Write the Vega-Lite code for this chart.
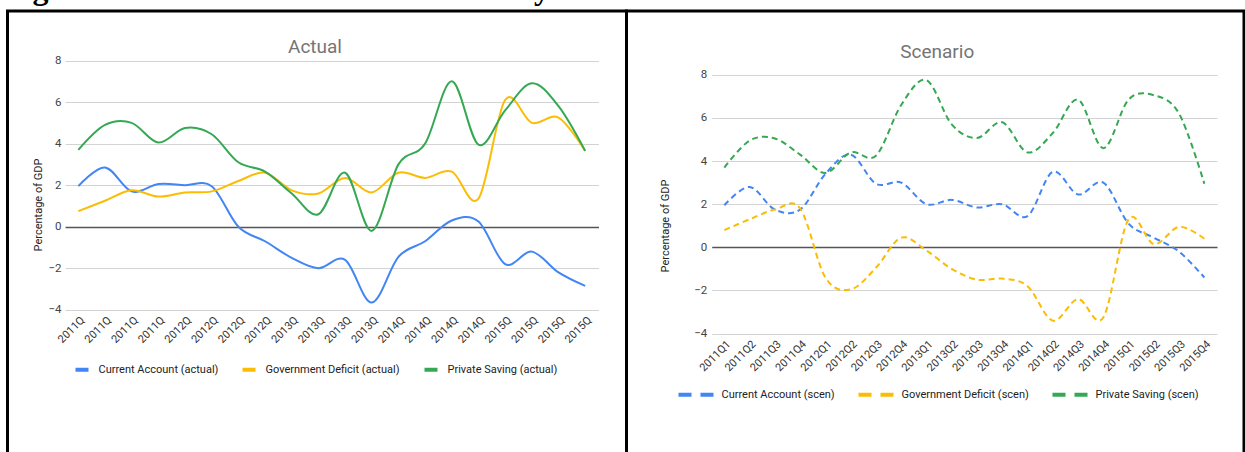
{
  "$schema": "https://vega.github.io/schema/vega-lite/v6.json",
  "autosize": {"type": "pad"},
  "padding": {"left": 3.5, "top": -28, "right": 0, "bottom": 0},
  "background": "white",
  "title": {"text": "Figure 11: Financial Balances: New Keynesian Shock", "anchor": "start", "font": "Liberation Serif", "fontSize": 32, "fontWeight": "bold", "color": "#000", "baseline": "alphabetic", "offset": -21, "dx": -2},
  "spacing": 0,
  "bounds": "flush",
  "resolve": {"scale": {"x": "independent", "y": "independent", "color": "independent"}, "legend": {"color": "independent"}},
  "datasets": {
    "actual": [
      {"q": "2011Q1", "series": "Current Account (actual)", "v": 1.95},
      {"q": "2011Q2", "series": "Current Account (actual)", "v": 2.85},
      {"q": "2011Q3", "series": "Current Account (actual)", "v": 1.7},
      {"q": "2011Q4", "series": "Current Account (actual)", "v": 2.05},
      {"q": "2012Q1", "series": "Current Account (actual)", "v": 2.0},
      {"q": "2012Q2", "series": "Current Account (actual)", "v": 1.95},
      {"q": "2012Q3", "series": "Current Account (actual)", "v": 0.0},
      {"q": "2012Q4", "series": "Current Account (actual)", "v": -0.7},
      {"q": "2013Q1", "series": "Current Account (actual)", "v": -1.5},
      {"q": "2013Q2", "series": "Current Account (actual)", "v": -2.0},
      {"q": "2013Q3", "series": "Current Account (actual)", "v": -1.6},
      {"q": "2013Q4", "series": "Current Account (actual)", "v": -3.65},
      {"q": "2014Q1", "series": "Current Account (actual)", "v": -1.45},
      {"q": "2014Q2", "series": "Current Account (actual)", "v": -0.7},
      {"q": "2014Q3", "series": "Current Account (actual)", "v": 0.3},
      {"q": "2014Q4", "series": "Current Account (actual)", "v": 0.25},
      {"q": "2015Q1", "series": "Current Account (actual)", "v": -1.8},
      {"q": "2015Q2", "series": "Current Account (actual)", "v": -1.2},
      {"q": "2015Q3", "series": "Current Account (actual)", "v": -2.2},
      {"q": "2015Q4", "series": "Current Account (actual)", "v": -2.85},
      {"q": "2011Q1", "series": "Government Deficit (actual)", "v": 0.75},
      {"q": "2011Q2", "series": "Government Deficit (actual)", "v": 1.25},
      {"q": "2011Q3", "series": "Government Deficit (actual)", "v": 1.75},
      {"q": "2011Q4", "series": "Government Deficit (actual)", "v": 1.45},
      {"q": "2012Q1", "series": "Government Deficit (actual)", "v": 1.65},
      {"q": "2012Q2", "series": "Government Deficit (actual)", "v": 1.7},
      {"q": "2012Q3", "series": "Government Deficit (actual)", "v": 2.2},
      {"q": "2012Q4", "series": "Government Deficit (actual)", "v": 2.6},
      {"q": "2013Q1", "series": "Government Deficit (actual)", "v": 1.75},
      {"q": "2013Q2", "series": "Government Deficit (actual)", "v": 1.6},
      {"q": "2013Q3", "series": "Government Deficit (actual)", "v": 2.35},
      {"q": "2013Q4", "series": "Government Deficit (actual)", "v": 1.65},
      {"q": "2014Q1", "series": "Government Deficit (actual)", "v": 2.6},
      {"q": "2014Q2", "series": "Government Deficit (actual)", "v": 2.35},
      {"q": "2014Q3", "series": "Government Deficit (actual)", "v": 2.65},
      {"q": "2014Q4", "series": "Government Deficit (actual)", "v": 1.35},
      {"q": "2015Q1", "series": "Government Deficit (actual)", "v": 6.1},
      {"q": "2015Q2", "series": "Government Deficit (actual)", "v": 5.0},
      {"q": "2015Q3", "series": "Government Deficit (actual)", "v": 5.25},
      {"q": "2015Q4", "series": "Government Deficit (actual)", "v": 3.65},
      {"q": "2011Q1", "series": "Private Saving (actual)", "v": 3.7},
      {"q": "2011Q2", "series": "Private Saving (actual)", "v": 4.9},
      {"q": "2011Q3", "series": "Private Saving (actual)", "v": 5.0},
      {"q": "2011Q4", "series": "Private Saving (actual)", "v": 4.05},
      {"q": "2012Q1", "series": "Private Saving (actual)", "v": 4.75},
      {"q": "2012Q2", "series": "Private Saving (actual)", "v": 4.45},
      {"q": "2012Q3", "series": "Private Saving (actual)", "v": 3.1},
      {"q": "2012Q4", "series": "Private Saving (actual)", "v": 2.65},
      {"q": "2013Q1", "series": "Private Saving (actual)", "v": 1.6},
      {"q": "2013Q2", "series": "Private Saving (actual)", "v": 0.6},
      {"q": "2013Q3", "series": "Private Saving (actual)", "v": 2.6},
      {"q": "2013Q4", "series": "Private Saving (actual)", "v": -0.2},
      {"q": "2014Q1", "series": "Private Saving (actual)", "v": 3.0},
      {"q": "2014Q2", "series": "Private Saving (actual)", "v": 4.0},
      {"q": "2014Q3", "series": "Private Saving (actual)", "v": 7.0},
      {"q": "2014Q4", "series": "Private Saving (actual)", "v": 3.95},
      {"q": "2015Q1", "series": "Private Saving (actual)", "v": 5.6},
      {"q": "2015Q2", "series": "Private Saving (actual)", "v": 6.9},
      {"q": "2015Q3", "series": "Private Saving (actual)", "v": 5.8},
      {"q": "2015Q4", "series": "Private Saving (actual)", "v": 3.65}
    ],
    "scen": [
      {"q": "2011Q1", "series": "Current Account (scen)", "v": 1.95},
      {"q": "2011Q2", "series": "Current Account (scen)", "v": 2.8},
      {"q": "2011Q3", "series": "Current Account (scen)", "v": 1.75},
      {"q": "2011Q4", "series": "Current Account (scen)", "v": 1.75},
      {"q": "2012Q1", "series": "Current Account (scen)", "v": 3.4},
      {"q": "2012Q2", "series": "Current Account (scen)", "v": 4.3},
      {"q": "2012Q3", "series": "Current Account (scen)", "v": 2.95},
      {"q": "2012Q4", "series": "Current Account (scen)", "v": 3.0},
      {"q": "2013Q1", "series": "Current Account (scen)", "v": 2.0},
      {"q": "2013Q2", "series": "Current Account (scen)", "v": 2.2},
      {"q": "2013Q3", "series": "Current Account (scen)", "v": 1.85},
      {"q": "2013Q4", "series": "Current Account (scen)", "v": 2.0},
      {"q": "2014Q1", "series": "Current Account (scen)", "v": 1.45},
      {"q": "2014Q2", "series": "Current Account (scen)", "v": 3.5},
      {"q": "2014Q3", "series": "Current Account (scen)", "v": 2.45},
      {"q": "2014Q4", "series": "Current Account (scen)", "v": 3.0},
      {"q": "2015Q1", "series": "Current Account (scen)", "v": 1.1},
      {"q": "2015Q2", "series": "Current Account (scen)", "v": 0.45},
      {"q": "2015Q3", "series": "Current Account (scen)", "v": -0.2},
      {"q": "2015Q4", "series": "Current Account (scen)", "v": -1.4},
      {"q": "2011Q1", "series": "Government Deficit (scen)", "v": 0.8},
      {"q": "2011Q2", "series": "Government Deficit (scen)", "v": 1.3},
      {"q": "2011Q3", "series": "Government Deficit (scen)", "v": 1.75},
      {"q": "2011Q4", "series": "Government Deficit (scen)", "v": 1.8},
      {"q": "2012Q1", "series": "Government Deficit (scen)", "v": -1.4},
      {"q": "2012Q2", "series": "Government Deficit (scen)", "v": -1.95},
      {"q": "2012Q3", "series": "Government Deficit (scen)", "v": -0.95},
      {"q": "2012Q4", "series": "Government Deficit (scen)", "v": 0.45},
      {"q": "2013Q1", "series": "Government Deficit (scen)", "v": -0.15},
      {"q": "2013Q2", "series": "Government Deficit (scen)", "v": -1.0},
      {"q": "2013Q3", "series": "Government Deficit (scen)", "v": -1.5},
      {"q": "2013Q4", "series": "Government Deficit (scen)", "v": -1.45},
      {"q": "2014Q1", "series": "Government Deficit (scen)", "v": -1.8},
      {"q": "2014Q2", "series": "Government Deficit (scen)", "v": -3.4},
      {"q": "2014Q3", "series": "Government Deficit (scen)", "v": -2.4},
      {"q": "2014Q4", "series": "Government Deficit (scen)", "v": -3.25},
      {"q": "2015Q1", "series": "Government Deficit (scen)", "v": 1.3},
      {"q": "2015Q2", "series": "Government Deficit (scen)", "v": 0.15},
      {"q": "2015Q3", "series": "Government Deficit (scen)", "v": 0.95},
      {"q": "2015Q4", "series": "Government Deficit (scen)", "v": 0.4},
      {"q": "2011Q1", "series": "Private Saving (scen)", "v": 3.7},
      {"q": "2011Q2", "series": "Private Saving (scen)", "v": 4.95},
      {"q": "2011Q3", "series": "Private Saving (scen)", "v": 5.05},
      {"q": "2011Q4", "series": "Private Saving (scen)", "v": 4.3},
      {"q": "2012Q1", "series": "Private Saving (scen)", "v": 3.45},
      {"q": "2012Q2", "series": "Private Saving (scen)", "v": 4.4},
      {"q": "2012Q3", "series": "Private Saving (scen)", "v": 4.25},
      {"q": "2012Q4", "series": "Private Saving (scen)", "v": 6.6},
      {"q": "2013Q1", "series": "Private Saving (scen)", "v": 7.75},
      {"q": "2013Q2", "series": "Private Saving (scen)", "v": 5.7},
      {"q": "2013Q3", "series": "Private Saving (scen)", "v": 5.07},
      {"q": "2013Q4", "series": "Private Saving (scen)", "v": 5.8},
      {"q": "2014Q1", "series": "Private Saving (scen)", "v": 4.4},
      {"q": "2014Q2", "series": "Private Saving (scen)", "v": 5.3},
      {"q": "2014Q3", "series": "Private Saving (scen)", "v": 6.85},
      {"q": "2014Q4", "series": "Private Saving (scen)", "v": 4.6},
      {"q": "2015Q1", "series": "Private Saving (scen)", "v": 6.85},
      {"q": "2015Q2", "series": "Private Saving (scen)", "v": 7.05},
      {"q": "2015Q3", "series": "Private Saving (scen)", "v": 6.2},
      {"q": "2015Q4", "series": "Private Saving (scen)", "v": 2.95}
    ]
  },
  "hconcat": [
    {
      "width": 619,
      "height": 460,
      "data": {"name": "actual"},
      "title": {"text": "Actual", "anchor": "middle", "frame": "group", "fontSize": 19, "fontWeight": "normal", "color": "#757575", "baseline": "alphabetic", "offset": -61, "dx": -2},
      "mark": {"type": "line", "interpolate": "cardinal", "strokeWidth": 2},
      "encoding": {
        "x": {
          "field": "q", "type": "ordinal", "sort": null,
          "scale": {"type": "point", "range": [57.5, 591], "padding": 0.5},
          "axis": {"offset": -160, "domain": false, "ticks": false, "grid": false, "labelAngle": -45, "labelPadding": 3, "labelFontSize": 11, "labelColor": "#333", "labelOverlap": false, "labelExpr": "substring(datum.value, 0, 5)", "title": null}
        },
        "y": {
          "field": "v", "type": "quantitative",
          "scale": {"domain": [-4, 8], "range": [298.8, 49.5], "nice": false, "zero": false},
          "axis": {"values": [-4, -2, 0, 2, 4, 6, 8], "offset": -57.5, "domain": false, "ticks": false, "labelPadding": 4, "labelFontSize": 11.5, "labelColor": "#444",
            "grid": true,
            "gridColor": {"condition": {"test": "datum.value === 0", "value": "#555555"}, "value": "#d3d3d3"},
            "gridWidth": {"condition": {"test": "datum.value === 0", "value": 1.6}, "value": 1},
            "title": "Percentage of GDP", "titleFontSize": 11, "titleFontWeight": "normal", "titleColor": "#222", "titleX": -27, "titleY": 193.5, "titleAngle": 270, "titleAlign": "center", "titleBaseline": "middle"}
        },
        "color": {
          "field": "series", "type": "nominal", "sort": null,
          "scale": {"domain": ["Current Account (actual)", "Government Deficit (actual)", "Private Saving (actual)"], "range": ["#4285F4", "#FBBC04", "#34A853"]},
          "legend": {"orient": "none", "legendX": 66, "legendY": 350, "direction": "horizontal", "title": null, "symbolType": "stroke", "symbolSize": 169, "symbolStrokeWidth": 4, "labelFontSize": 11, "labelColor": "#222", "labelOffset": 8, "columnPadding": 16, "padding": 0, "labelLimit": 0}
        }
      }
    },
    {
      "width": 617.5,
      "height": 460,
      "data": {"name": "scen"},
      "title": {"text": "Scenario", "anchor": "middle", "frame": "group", "fontSize": 19, "fontWeight": "normal", "color": "#757575", "baseline": "alphabetic", "offset": -66, "dx": 2},
      "mark": {"type": "line", "interpolate": "cardinal", "strokeWidth": 2, "strokeDash": [6, 4]},
      "encoding": {
        "x": {
          "field": "q", "type": "ordinal", "sort": null,
          "scale": {"type": "point", "range": [85.2, 590.5], "padding": 0.5},
          "axis": {"offset": -136, "domain": false, "ticks": false, "grid": false, "labelAngle": -45, "labelPadding": 3, "labelFontSize": 11, "labelColor": "#333", "labelOverlap": false, "title": null}
        },
        "y": {
          "field": "v", "type": "quantitative",
          "scale": {"domain": [-4, 8], "range": [322.6, 63.8], "nice": false, "zero": false},
          "axis": {"values": [-4, -2, 0, 2, 4, 6, 8], "offset": -85.2, "domain": false, "ticks": false, "labelPadding": 5, "labelFontSize": 11.5, "labelColor": "#444",
            "grid": true,
            "gridColor": {"condition": {"test": "datum.value === 0", "value": "#555555"}, "value": "#d3d3d3"},
            "gridWidth": {"condition": {"test": "datum.value === 0", "value": 1.6}, "value": 1},
            "title": "Percentage of GDP", "titleFontSize": 11, "titleFontWeight": "normal", "titleColor": "#222", "titleX": -46.7, "titleY": 214.5, "titleAngle": 270, "titleAlign": "center", "titleBaseline": "middle"}
        },
        "color": {
          "field": "series", "type": "nominal", "sort": null,
          "scale": {"domain": ["Current Account (scen)", "Government Deficit (scen)", "Private Saving (scen)"], "range": ["#4285F4", "#FBBC04", "#34A853"]},
          "legend": {"orient": "none", "legendX": 50, "legendY": 364, "direction": "horizontal", "title": null, "symbolType": "stroke", "symbolSize": 1225, "symbolStrokeWidth": 4, "symbolDash": [13, 9], "labelFontSize": 11, "labelColor": "#222", "labelOffset": 6, "columnPadding": 15, "padding": 0, "labelLimit": 0}
        }
      }
    }
  ],
  "config": {
    "font": "Roboto",
    "view": {"stroke": "#000000", "strokeWidth": 3},
    "axis": {"labelFont": "Roboto", "titleFont": "Roboto"},
    "legend": {"labelFont": "Roboto"}
  }
}
